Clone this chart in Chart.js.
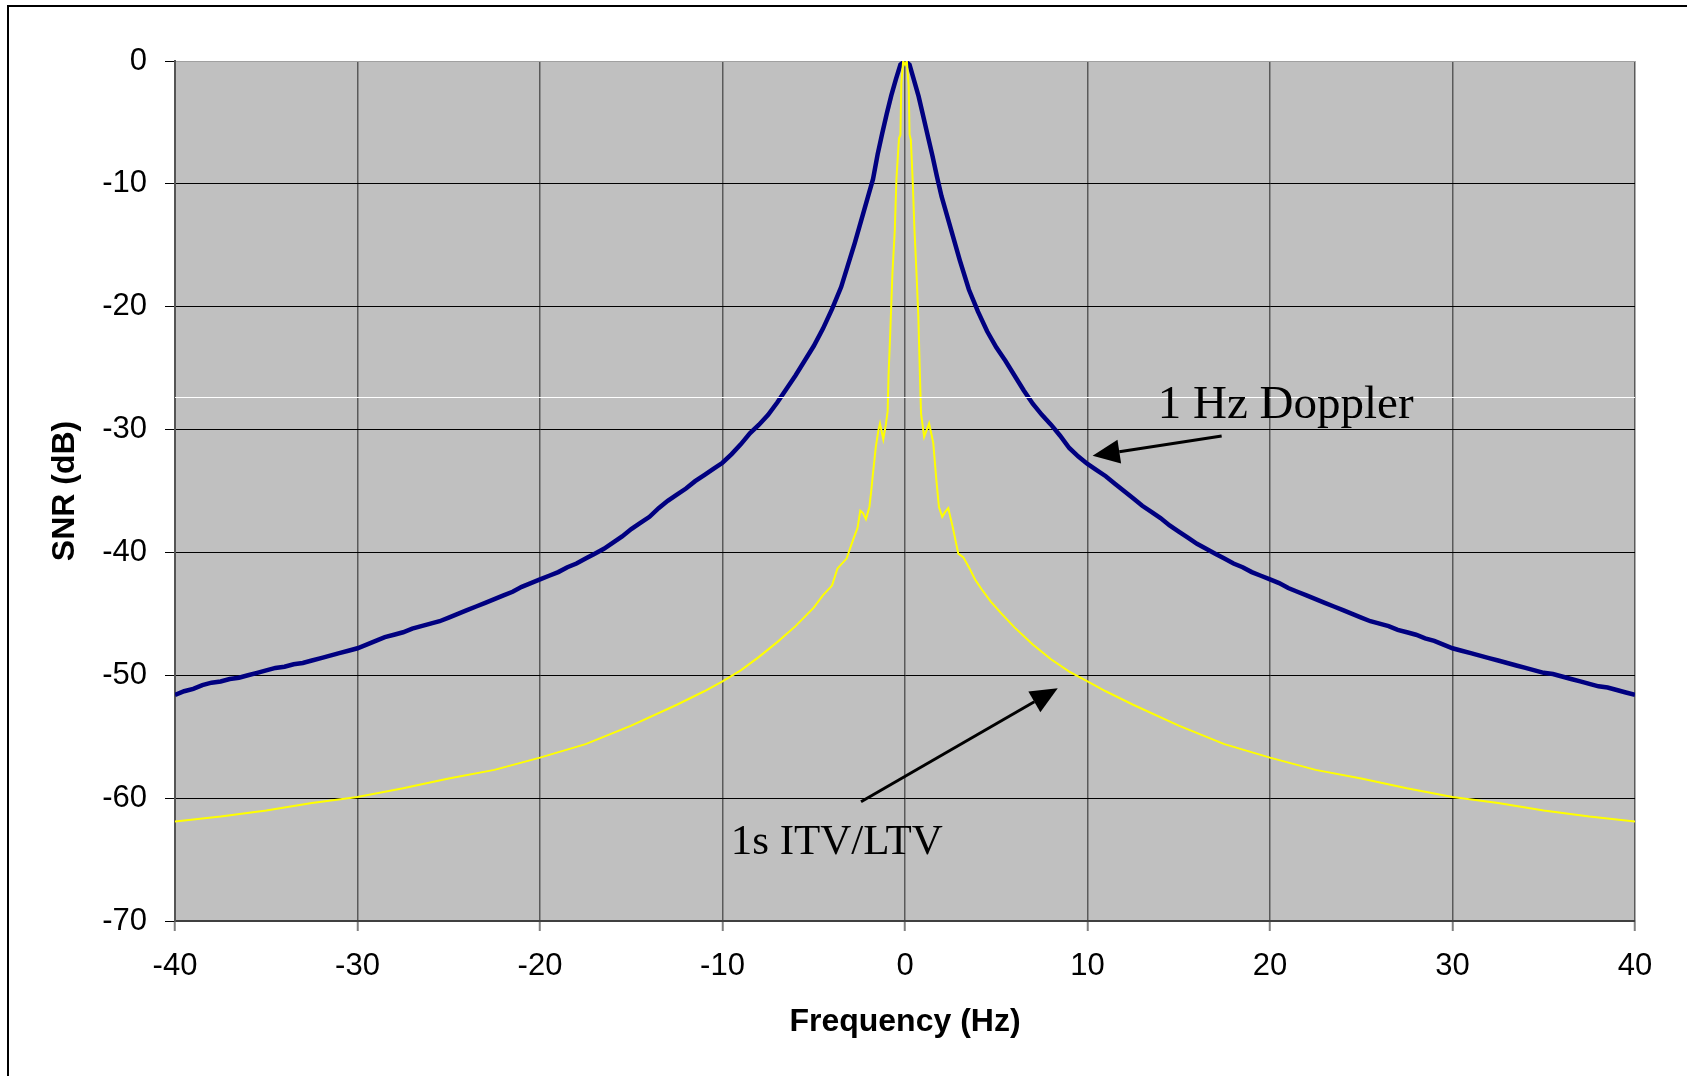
<!DOCTYPE html>
<html>
<head>
<meta charset="utf-8">
<script src="https://cdn.jsdelivr.net/npm/chart.js@4.4.1/dist/chart.umd.min.js"></script>
<style>
  html, body { margin: 0; padding: 0; background: #fff; }
  canvas { display: block; }
</style>
</head>
<body>
<canvas id="snr-chart" width="1687" height="1076"></canvas>
<script>
// frequency axis (Hz) and SNR (dB)
var freqDoppler = [
  -40, -39.5, -39, -38.5, -38, -37.5, -37, -36.5, -36, -35.5, -35, -34.5, -34, -33.5, -33, -32.5,
  -32, -31.5, -31, -30.5, -30, -29.5, -29, -28.5, -28, -27.5, -27, -26.5, -26, -25.5, -25, -24.5,
  -24, -23.5, -23, -22.5, -22, -21.5, -21, -20.5, -20, -19.5, -19, -18.5, -18, -17.5, -17, -16.5,
  -16, -15.5, -15, -14.5, -14, -13.5, -13, -12.5, -12, -11.5, -11, -10.5, -10, -9.5, -9, -8.5,
  -8, -7.5, -7, -6.5, -6, -5.5, -5, -4.5, -4, -3.5, -3,
  -2.75, -2.5, -2.25, -2, -1.75, -1.5, -1.25, -1, -0.75, -0.5, -0.25, 0,
  0.25, 0.5, 0.75, 1, 1.25, 1.5, 1.75, 2, 2.25, 2.5, 2.75, 3,
  3.5, 4, 4.5, 5, 5.5, 6, 6.5, 7, 7.5, 8, 8.5, 9, 9.5, 10, 10.5, 11, 11.5, 12, 12.5, 13, 13.5,
  14, 14.5, 15, 15.5, 16, 16.5, 17, 17.5, 18, 18.5, 19, 19.5, 20, 20.5, 21, 21.5, 22, 22.5, 23,
  23.5, 24, 24.5, 25, 25.5, 26, 26.5, 27, 27.5, 28, 28.5, 29, 29.5, 30, 30.5, 31, 31.5, 32, 32.5,
  33, 33.5, 34, 34.5, 35, 35.5, 36, 36.5, 37, 37.5, 38, 38.5, 39, 39.5, 40
];
var snrDoppler = [
  -51.6, -51.3, -51.1, -50.8, -50.6, -50.5, -50.3, -50.2, -50.0, -49.8, -49.6, -49.4, -49.3, -49.1, -49.0, -48.8,
  -48.6, -48.4, -48.2, -48.0, -47.8, -47.5, -47.2, -46.9, -46.7, -46.5, -46.2, -46.0, -45.8, -45.6, -45.3, -45.0,
  -44.7, -44.4, -44.1, -43.8, -43.5, -43.2, -42.8, -42.5, -42.2, -41.9, -41.6, -41.2, -40.9, -40.5, -40.1, -39.7,
  -39.2, -38.7, -38.1, -37.6, -37.1, -36.4, -35.8, -35.3, -34.8, -34.2, -33.7, -33.2, -32.7, -32.0, -31.2, -30.3,
  -29.6, -28.8, -27.8, -26.7, -25.6, -24.4, -23.2, -21.8, -20.2, -18.4, -16.0,
  -14.8, -13.5, -12.2, -10.9, -9.6, -7.6, -5.9, -4.3, -2.8, -1.5, -0.3, 0,
  -0.3, -1.6, -2.9, -4.5, -6.1, -7.7, -9.4, -11.0, -12.3, -13.6, -14.9, -16.2,
  -18.6, -20.4, -22.0, -23.3, -24.4, -25.6, -26.8, -27.9, -28.8, -29.6, -30.5, -31.5, -32.2, -32.8, -33.3, -33.8, -34.4, -35.0, -35.6, -36.2, -36.7,
  -37.2, -37.8, -38.3, -38.8, -39.3, -39.7, -40.1, -40.5, -40.9, -41.2, -41.6, -41.9, -42.2, -42.5, -42.9, -43.2, -43.5, -43.8, -44.1,
  -44.4, -44.7, -45.0, -45.3, -45.6, -45.8, -46.0, -46.3, -46.5, -46.7, -47.0, -47.2, -47.5, -47.8, -48.0, -48.2, -48.4, -48.6, -48.8,
  -49.0, -49.2, -49.4, -49.6, -49.8, -49.9, -50.1, -50.3, -50.5, -50.7, -50.9, -51.0, -51.2, -51.4, -51.6
];

var freqItv = [
  -40, -37.5, -35, -32.5, -30, -27.5, -25, -22.5, -20, -17.5, -15, -12.5, -11, -10, -9, -8, -7, -6, -5, -4.5,
  -4, -3.7, -3.2, -2.85, -2.6, -2.45, -2.3, -2.14, -1.95, -1.85, -1.77, -1.6, -1.45, -1.37, -1.19, -1.05, -0.95, -0.9,
  -0.8, -0.69, -0.56, -0.47, -0.33, -0.25, -0.2, -0.1, 0, 0.1, 0.2, 0.25, 0.32, 0.42, 0.52, 0.64, 0.73, 0.82, 0.88,
  1.05, 1.32, 1.45, 1.55, 1.7, 1.86, 2.04, 2.2, 2.37, 2.61, 2.92, 3.2, 3.5, 3.84, 4.2, 4.7, 5.3, 6, 7, 8, 9, 10, 11,
  12.5, 15, 17.5, 20, 22.5, 25, 27.5, 30, 32.5, 35, 37.5, 40
];
var snrItv = [
  -61.9, -61.5, -61.0, -60.4, -59.9, -59.2, -58.4, -57.7, -56.7, -55.6, -54.1, -52.4, -51.3, -50.5, -49.6, -48.5, -47.3, -46.0, -44.5, -43.5,
  -42.7, -41.3, -40.5, -39.0, -38.0, -36.6, -36.8, -37.3, -36.3, -35.0, -33.8, -31.4, -30.0, -29.5, -30.8, -29.6, -28.5, -25.5,
  -21.8, -17.3, -13.8, -9.6, -6.3, -6.0, -1.8, 0, -0.3, 0, -2.0, -6.0, -6.4, -9.7, -13.8, -17.6, -20.8, -25.7, -28.7,
  -30.6, -29.5, -30.4, -31.1, -33.8, -36.3, -37.1, -36.7, -36.4, -37.9, -40.1, -40.4, -41.2, -42.2, -43.0, -44.0, -45.0, -46.1, -47.5, -48.7, -49.7, -50.5, -51.3,
  -52.4, -54.1, -55.6, -56.7, -57.7, -58.4, -59.2, -59.9, -60.4, -61.0, -61.5, -61.9
];

var xTicks = [-40, -30, -20, -10, 0, 10, 20, 30, 40];
var yTicks = [0, -10, -20, -30, -40, -50, -60, -70];

function toPoints(xs, ys) {
  return xs.map(function (x, i) { return { x: x, y: ys[i] }; });
}

var sansFont = '"Liberation Sans", Arial, sans-serif';
var serifFont = '"Liberation Serif", "Times New Roman", serif';

// grey plot area, outer frame, stray white line, arrows and labels
var decorations = {
  id: 'decorations',
  beforeDraw: function (chart) {
    var ctx = chart.ctx, a = chart.chartArea;
    ctx.save();
    ctx.fillStyle = '#ffffff';
    ctx.fillRect(0, 0, chart.width, chart.height);
    ctx.fillStyle = '#000000';
    ctx.fillRect(7, 5, 2, chart.height);
    ctx.fillRect(7, 5, chart.width, 2);
    ctx.fillStyle = '#c0c0c0';
    ctx.fillRect(a.left, a.top, a.right - a.left, a.bottom - a.top);
    ctx.restore();
  },
  afterDatasetsDraw: function (chart) {
    var ctx = chart.ctx, xs = chart.scales.x, ys = chart.scales.y;
    function px(v) { return xs.getPixelForValue(v); }
    function py(v) { return ys.getPixelForValue(v); }

    ctx.save();
    ctx.strokeStyle = '#ffffff';
    ctx.lineWidth = 1;
    ctx.beginPath();
    ctx.moveTo(px(-40), Math.round(py(-27.33)) + 0.5);
    ctx.lineTo(px(40), Math.round(py(-27.33)) + 0.5);
    ctx.stroke();

    function arrow(x0, y0, x1, y1) {
      var sx = px(x0), sy = py(y0), tx = px(x1), ty = py(y1);
      var ang = Math.atan2(ty - sy, tx - sx);
      var len = 27, half = 12;
      var bx = tx - len * Math.cos(ang), by = ty - len * Math.sin(ang);
      ctx.strokeStyle = '#000';
      ctx.lineWidth = 3;
      ctx.beginPath();
      ctx.moveTo(sx, sy);
      ctx.lineTo(bx, by);
      ctx.stroke();
      ctx.fillStyle = '#000';
      ctx.beginPath();
      ctx.moveTo(tx, ty);
      ctx.lineTo(bx + half * Math.sin(ang), by - half * Math.cos(ang));
      ctx.lineTo(bx - half * Math.sin(ang), by + half * Math.cos(ang));
      ctx.closePath();
      ctx.fill();
    }
    arrow(17.35, -30.52, 10.28, -32.13);
    arrow(-2.41, -60.29, 8.37, -51.06);

    ctx.fillStyle = '#000';
    ctx.font = '47px ' + serifFont;
    ctx.textAlign = 'left';
    ctx.textBaseline = 'alphabetic';
    ctx.fillText('1 Hz Doppler', px(13.85), py(-29.08));
    ctx.font = '43px ' + serifFont;
    ctx.fillText('1s ITV/LTV', px(-9.55), py(-64.55));
    ctx.restore();
  }
};

var chartGraph = new Chart(document.getElementById('snr-chart'), {
  type: 'scatter',
  data: {
    datasets: [
      {
        label: '1s ITV/LTV',
        data: toPoints(freqItv, snrItv),
        showLine: true,
        borderColor: '#ffff00',
        borderWidth: 2,
        pointRadius: 0,
        tension: 0
      },
      {
        label: '1 Hz Doppler',
        data: toPoints(freqDoppler, snrDoppler),
        showLine: true,
        borderColor: '#000080',
        borderWidth: 4.5,
        pointRadius: 0,
        tension: 0
      }
    ]
  },
  options: {
    responsive: false,
    animation: false,
    devicePixelRatio: 1,
    layout: { padding: { top: 61, right: 52, bottom: 0, left: 0 } },
    plugins: {
      legend: { display: false },
      tooltip: { enabled: false }
    },
    scales: {
      x: {
        type: 'linear',
        min: -40,
        max: 40,
        afterFit: function (scale) { scale.height = 155; },
        afterBuildTicks: function (scale) { scale.ticks = xTicks.map(function (v) { return { value: v }; }); },
        ticks: { color: '#000', padding: 17, font: { family: sansFont, size: 31 } },
        grid: { color: '#5a5a5a', lineWidth: 1.5, tickLength: 10, tickColor: '#808080', tickWidth: 2 },
        border: { color: '#404040', width: 2 },
        title: {
          display: true,
          text: 'Frequency (Hz)',
          color: '#000',
          font: { family: sansFont, size: 32, weight: 'bold' },
          padding: { top: 0, bottom: 35 }
        }
      },
      y: {
        type: 'linear',
        min: -70,
        max: 0,
        afterFit: function (scale) { scale.width = 175; },
        afterBuildTicks: function (scale) { scale.ticks = yTicks.map(function (v) { return { value: v }; }); },
        ticks: { color: '#000', padding: 18, font: { family: sansFont, size: 31 } },
        grid: {
          color: function (c) { return c.tick && c.tick.value === 0 ? '#a0a0a0' : '#000000'; },
          lineWidth: 1,
          tickLength: 10,
          tickColor: '#000'
        },
        border: { color: '#555555', width: 2 },
        title: {
          display: true,
          text: 'SNR (dB)',
          color: '#000',
          font: { family: sansFont, size: 32, weight: 'bold' },
          padding: { top: 46, bottom: 0 }
        }
      }
    }
  },
  plugins: [decorations]
});
</script>
</body>
</html>
